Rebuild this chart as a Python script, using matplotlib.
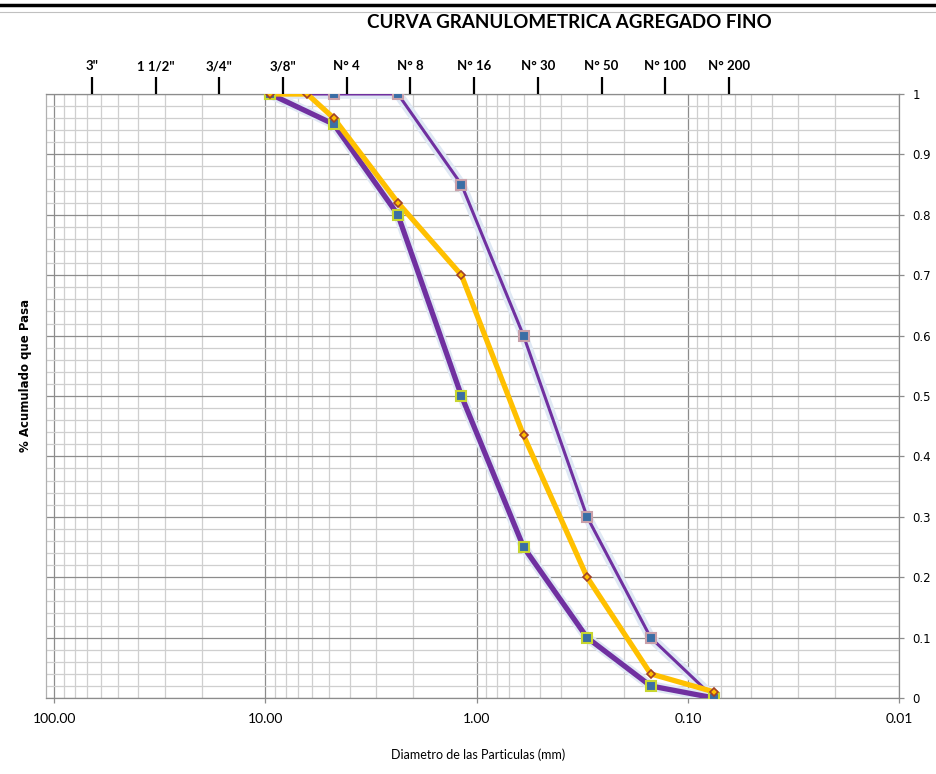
import numpy as np
import matplotlib.pyplot as plt
import matplotlib.patheffects as pe
from matplotlib.ticker import FixedLocator, NullFormatter, MultipleLocator, FuncFormatter

# datos de la curva granulometrica (abertura en mm, fraccion que pasa)
sieve_mm = [9.5, 4.75, 2.36, 1.18, 0.6, 0.3, 0.15, 0.075]
upper_limit = [1.00, 1.00, 1.00, 0.85, 0.60, 0.30, 0.10, 0.00]
lower_limit = [1.00, 0.95, 0.80, 0.50, 0.25, 0.10, 0.02, 0.00]

sample_mm = [9.5, 6.35, 4.75, 2.36, 1.18, 0.6, 0.3, 0.15, 0.075]
sample_pass = [1.00, 1.00, 0.96, 0.82, 0.70, 0.435, 0.20, 0.04, 0.01]

top_labels = ['3"', '1 1/2"', '3/4"', '3/8"', 'N° 4', 'N° 8', 'N° 16',
              'N° 30', 'N° 50', 'N° 100', 'N° 200']

narrow = ['Lato', 'DejaVu Sans']
purple = '#7030A0'
glow = [pe.Stroke(linewidth=7, foreground='#DFE8F4'), pe.Normal()]

fig = plt.figure(figsize=(9.37, 7.74), dpi=100)
ax = fig.add_axes([46 / 937, 1 - 698 / 774, (899 - 46) / 937, (698 - 94) / 774])

ax.set_xscale('log')
ax.set_xlim(109.5, 0.01)
ax.set_ylim(0, 1)

ax.xaxis.set_major_locator(FixedLocator([100, 10, 1, 0.1, 0.01]))
ax.xaxis.set_major_formatter(FuncFormatter(lambda v, p: '%.2f' % v))
minors = [m * 10.0 ** e for e in range(-2, 2) for m in range(2, 10)]
ax.xaxis.set_minor_locator(FixedLocator(minors))
ax.xaxis.set_minor_formatter(NullFormatter())

ax.yaxis.set_major_locator(MultipleLocator(0.1))
ax.yaxis.set_minor_locator(MultipleLocator(0.02))
ax.yaxis.set_major_formatter(FuncFormatter(lambda v, p: '%g' % round(v, 1)))
ax.yaxis.tick_right()

ax.grid(which='major', color='#8c8c8c', linewidth=0.9)
ax.grid(which='minor', color='#cfcfcf', linewidth=0.9)
ax.set_axisbelow(True)
ax.tick_params(which='minor', length=0)
ax.tick_params(which='major', length=3.6, color='#8c8c8c', width=0.9)
ax.tick_params(axis='x', labelsize=10, pad=7)
ax.tick_params(axis='y', labelsize=8.5, pad=6)
for lab in ax.get_xticklabels():
    lab.set_family(narrow)
for s in ax.spines.values():
    s.set_color('#8c8c8c')
    s.set_linewidth(0.9)
ax.spines['left'].set_color('#b0b0b0')

# lineas con un leve resplandor, marcadores aparte
ax.plot(sieve_mm, upper_limit, color=purple, lw=2.2, path_effects=glow, zorder=3)
ax.plot(sieve_mm, lower_limit, color=purple, lw=3.8, path_effects=glow, zorder=3)
ax.plot(sample_mm, sample_pass, color='#FFC000', lw=3.8, zorder=4)
ax.plot(sieve_mm, upper_limit, ls='none', marker='s', ms=6.5,
        mfc='#3A6EA5', mec='#C9A0AA', mew=1.5, zorder=5)
ax.plot(sieve_mm, lower_limit, ls='none', marker='s', ms=6.5,
        mfc='#3A6EA5', mec='#C8D630', mew=1.5, zorder=5)
ax.plot(sample_mm, sample_pass, ls='none', marker='D', ms=4.2,
        mfc='#FFC000', mec='#A0402A', mew=1.2, zorder=6)

# eje superior con los tamices
ax2 = ax.twiny()
ax2.set_xlim(-0.722, 12.67)
ax2.set_xticks(range(len(top_labels)))
ax2.set_xticklabels(top_labels, family=narrow, fontweight='bold', fontsize=9.5)
ax2.tick_params(axis='x', direction='out', length=12.5, width=1.6, color='black', pad=3)
for s in ax2.spines.values():
    s.set_visible(False)

fig.text(569 / 937, 1 - 22 / 774, 'CURVA GRANULOMETRICA AGREGADO FINO',
         ha='center', va='center', fontsize=13.5, fontweight='bold', family=narrow)
fig.text(26 / 937, 1 - 375 / 774, '% Acumulado que Pasa', rotation=90,
         ha='center', va='center', fontsize=8.5, fontweight='bold')
fig.text(478 / 937, 1 - 755 / 774, 'Diametro de las Particulas (mm)',
         ha='center', va='center', fontsize=9, family=narrow)

# restos del borde de la hoja
fig.add_artist(plt.Line2D([0, 1], [1 - 5 / 774, 1 - 5 / 774], color='black', lw=2.5))
fig.add_artist(plt.Line2D([0, 1], [1 - 12 / 774, 1 - 12 / 774], color='#c0c0c0', lw=0.8))

fig.savefig('out.png', dpi=100)
